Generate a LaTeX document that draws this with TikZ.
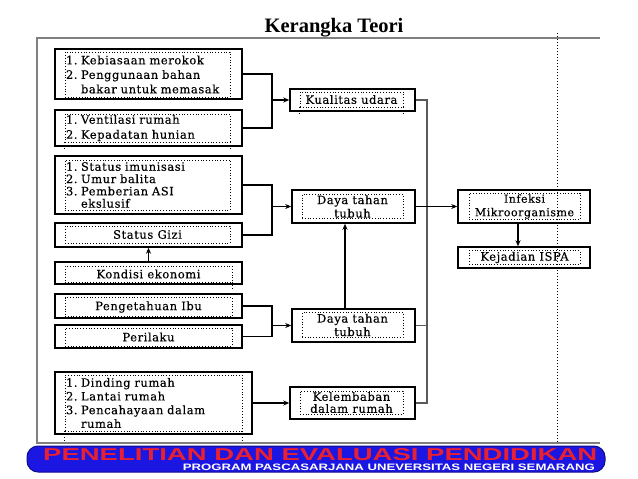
\documentclass[tikz,border=0pt]{standalone}
\usepackage{fontspec}
\setmainfont{DejaVu Serif}[LetterSpace=5, FakeBold=0.35]
\newfontfamily\titlefont{Liberation Serif}
\newfontfamily\bannerfont{Liberation Sans}
\usetikzlibrary{arrows.meta}
\definecolor{bannerblue}{RGB}{28,22,226}
\definecolor{bannerred}{RGB}{232,32,48}
\definecolor{framegray}{RGB}{128,128,128}
\tikzset{
  obox/.style={draw=black, line width=1.5pt, inner sep=0pt},
  dbox/.style={draw=black, dotted, line width=0.8pt, inner sep=1pt, font=\fontsize{11.5}{14}\selectfont},
  conn/.style={draw=black, line width=1.1pt},
  arr/.style={conn, -{Stealth[length=6pt,width=5pt]}},
  gconn/.style={draw=framegray!70!black, line width=1.6pt},
  frame/.style={draw=framegray, line width=1.8pt},
  dext/.style={draw=black, dotted, line width=0.8pt}
}
\newcommand{\litem}[2]{\makebox[15pt][l]{#1}#2}
\begin{document}
\begin{tikzpicture}[x=1pt,y=-1pt]
\useasboundingbox (0,0) rectangle (638,479);
% title
\node[font=\titlefont\bfseries\fontsize{20.5}{24}\selectfont, anchor=base] (title) at (334,32) {Kerangka Teori};
% frame
\coordinate (ftl) at (37,38);
\coordinate (ftr) at (600,38);
\coordinate (fbl) at (37,443);
\coordinate (fbr) at (600,443);
\draw[frame] (ftr) -- (ftl) -- (fbl) -- (fbr);
\coordinate (vt) at (557,33);
\coordinate (vb) at (557,443);
\draw[dext, line width=1pt] (vt) -- (vb);

% left boxes
\node[obox, minimum width=187pt, minimum height=50pt] (A) at (148.5,74) {};
\node[dbox, minimum width=165pt, minimum height=45pt, text width=163pt, align=left, font=\fontsize{11.5}{14.5}\selectfont] (Ai) at (147.5,74.5)
 {\litem{1.}{Kebiasaan merokok}\\\litem{2.}{Penggunaan bahan}\\\litem{}{bakar untuk memasak}};

\node[obox, minimum width=187pt, minimum height=36pt] (B) at (148.5,128) {};
\node[dbox, minimum width=165pt, minimum height=28pt, text width=163pt, align=left, font=\fontsize{11.5}{15}\selectfont] (Bi) at (147.5,128)
 {\litem{1.}{Ventilasi rumah}\\\litem{2.}{Kepadatan hunian}};
\draw[dext] (Bi.south west) -- ++(0,8);
\draw[dext] (Bi.south east) -- ++(0,8);

\node[obox, minimum width=187pt, minimum height=58pt] (C) at (148.5,185) {};
\node[dbox, minimum width=165pt, minimum height=50pt, text width=163pt, align=left, font=\fontsize{11.5}{12.3}\selectfont] (Ci) at (147.5,185)
 {\litem{1.}{Status imunisasi}\\\litem{2.}{Umur balita}\\\litem{3.}{Pemberian ASI}\\\litem{}{ekslusif}};

\node[obox, minimum width=187pt, minimum height=24pt] (G) at (148.5,235) {};
\node[dbox, minimum width=165pt, minimum height=17pt] (Gi) at (147.5,234.5) {Status Gizi};

\node[obox, minimum width=187pt, minimum height=22pt] (K) at (148.5,273) {};
\node[dbox, minimum width=167pt, minimum height=16pt] (Ki) at (148.5,274) {Kondisi ekonomi};
\draw[dext] (Ki.south east) -- ++(0,8);

\node[obox, minimum width=187pt, minimum height=24pt] (P) at (148.5,306) {};
\node[dbox, minimum width=167pt, minimum height=19pt] (Pi) at (148.5,307) {Pengetahuan Ibu};

\node[obox, minimum width=187pt, minimum height=23pt] (R) at (148.5,336.5) {};
\node[dbox, minimum width=167pt, minimum height=18pt] (Ri) at (148.5,337) {Perilaku};

\node[obox, minimum width=197pt, minimum height=62pt] (D) at (153.5,403) {};
\node[dbox, minimum width=177pt, minimum height=56pt, text width=175pt, align=left, font=\fontsize{11.5}{13.7}\selectfont] (Di) at (153.5,403)
 {\litem{1.}{Dinding rumah}\\\litem{2.}{Lantai rumah}\\\litem{3.}{Pencahayaan dalam}\\\litem{}{rumah}};
\draw[dext] (Di.south west) -- ++(0,10);
\draw[dext] (Di.south east) -- ++(0,10);

% middle boxes
\node[obox, minimum width=125pt, minimum height=22pt] (Q) at (352.5,100) {};
\node[dbox, minimum width=103pt, minimum height=15pt] (Qi) at (351.5,99.5) {Kualitas udara};
\draw[dext] (Qi.south west) -- ++(0,6);
\draw[dext] (Qi.south east) -- ++(0,6);

\node[obox, minimum width=123pt, minimum height=33pt] (T1) at (353.5,206.5) {};
\node[dbox, minimum width=101pt, minimum height=23pt, align=center, font=\fontsize{11.5}{13.5}\selectfont] (T1i) at (352.5,206.5) {Daya tahan\\tubuh};

\node[obox, minimum width=123pt, minimum height=33pt] (T2) at (353.5,325.5) {};
\node[dbox, minimum width=101pt, minimum height=24pt, align=center, font=\fontsize{11.5}{13.5}\selectfont] (T2i) at (352.5,325) {Daya tahan\\tubuh};

\node[obox, minimum width=125pt, minimum height=32pt] (L) at (352.5,403) {};
\node[dbox, minimum width=103pt, minimum height=23pt, align=center, font=\fontsize{11.5}{12}\selectfont] (Li) at (351.5,402.5) {Kelembaban\\dalam rumah};

% right boxes
\node[obox, minimum width=132pt, minimum height=33pt] (I) at (524,206.5) {};
\node[dbox, minimum width=111pt, minimum height=23pt, align=center, font=\fontsize{11}{13.5}\selectfont] (Ii) at (524.5,206.5) {Infeksi\\Mikroorganisme};

\node[obox, minimum width=132pt, minimum height=21pt] (S) at (524,257.5) {};
\node[dbox, minimum width=111pt, minimum height=14pt] (Si) at (524.5,257.5) {Kejadian ISPA};

% connectors
\coordinate (j1) at (272,100);
\draw[conn] (A.east) -| (j1) |- (B.east);
\draw[arr] (j1) -- (Q.west);

\coordinate (j2) at (272,206.5);
\draw[conn] (C.east) -| (j2) |- (G.east);
\draw[arr] (j2) -- (T1.west);

\draw[arr] (K.north) -- (G.south);

\coordinate (j3) at (272,325.5);
\draw[conn] (P.east) -| (j3) |- (R.east);
\draw[arr] (j3) -- (T2.west);

\draw[arr] (D.east) -- (L.west);

\coordinate (vx) at (345,0);
\draw[arr] (T2.north -| vx) -- (T1.south -| vx);

\coordinate (j4) at (427,206.5);
\draw[gconn] (Q.east) -| (j4) |- (L.east);
\draw[gconn] (T2.east) -- (T2.east -| j4);
\draw[arr] (T1.east) -- (I.west);

\coordinate (vx2) at (518,0);
\draw[arr] (I.south -| vx2) -- (S.north -| vx2);

% banner
\node[draw=bannerblue!60!black, line width=1pt, fill=bannerblue, rounded corners=11pt, minimum width=578pt, minimum height=26pt, inner sep=0pt] (ban) at (316,459) {};
\node[inner sep=0pt, anchor=south west, text=bannerred] (bt1) at (43,461)
 {\resizebox{554pt}{12pt}{\bannerfont\bfseries PENELITIAN DAN EVALUASI PENDIDIKAN}};
\node[inner sep=0pt, anchor=south east, text=white] (bt2) at (595,470.5)
 {\resizebox{412pt}{6.5pt}{\bannerfont\bfseries PROGRAM PASCASARJANA UNEVERSITAS NEGERI SEMARANG}};
\end{tikzpicture}
\end{document}
